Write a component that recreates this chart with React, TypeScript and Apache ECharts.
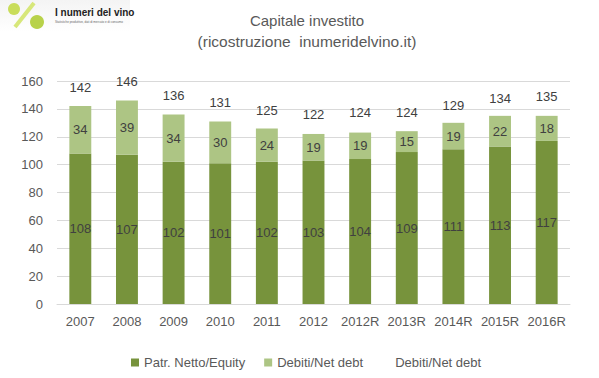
import React, { useEffect, useRef } from "react";
import * as echarts from "echarts";

const categories = ["2007", "2008", "2009", "2010", "2011", "2012", "2012R", "2013R", "2014R", "2015R", "2016R"];
const equity = [108, 107, 102, 101, 102, 103, 104, 109, 111, 113, 117];
const debt = [34, 39, 34, 30, 24, 19, 19, 15, 19, 22, 18];
const totals = [142, 146, 136, 131, 125, 122, 124, 124, 129, 134, 135];

export default function App() {
  const ref = useRef<HTMLDivElement>(null);
  useEffect(() => {
    document.body.style.margin = "0";
    const chart = echarts.init(ref.current!, null, { renderer: "svg" });
    const font = "Liberation Sans, Arial, sans-serif";
    chart.setOption({
      animation: false,
      textStyle: { fontFamily: font },
      graphic: [
        {
          type: "rect",
          shape: { x: 0, y: 0, width: 130, height: 32 },
          style: {
            fill: new echarts.graphic.LinearGradient(0, 0, 0, 1, [
              { offset: 0, color: "#f4f4f4" },
              { offset: 1, color: "#ffffff" },
            ]),
          },
        },
        { type: "circle", shape: { cx: 14, cy: 9, r: 6 }, style: { fill: "#c9dd5a" } },
        { type: "line", shape: { x1: 15, y1: 27, x2: 34, y2: 3 }, style: { stroke: "#d7e77a", lineWidth: 4 } },
        { type: "circle", shape: { cx: 37, cy: 22, r: 7 }, style: { fill: "#b8d24a" } },
        { type: "text", x: 55, y: 7, style: { text: "I numeri del vino", fontSize: 10, fontWeight: "bold", fill: "#222", fontFamily: font } },
        { type: "text", x: 55, y: 20, style: { text: "Statistiche produttive, dati di mercato e di consumo", fontSize: 3, fill: "#666", fontFamily: font } },
        {
          type: "text",
          x: 307,
          y: 20,
          style: { text: "Capitale investito", fontSize: 15, fill: "#595959", fontFamily: font, verticalAlign: "middle", align: "center" },
        },
        {
          type: "text",
          x: 307,
          y: 41,
          style: { text: "(ricostruzione  inumeridelvino.it)", fontSize: 15.5, fill: "#595959", fontFamily: font, verticalAlign: "middle", align: "center" },
        },
      ],
      legend: {
        top: 351,
        left: 126,
        itemWidth: 8,
        itemHeight: 8,
        itemGap: 19,
        textStyle: { color: "#595959", fontSize: 13, fontFamily: font },
        data: [
          { name: "Patr. Netto/Equity", icon: "rect" },
          { name: "Debiti/Net debt", icon: "rect" },
          { name: "Debiti/Net debt ", icon: "rect", itemStyle: { color: "rgba(0,0,0,0)" } },
        ],
      },
      grid: { left: 57, right: 29, top: 81, bottom: 74 },
      xAxis: {
        type: "category",
        data: categories,
        axisTick: { show: false },
        axisLine: { lineStyle: { color: "#d9d9d9" } },
        axisLabel: { color: "#595959", fontSize: 13, margin: 11, interval: 0 },
      },
      yAxis: {
        type: "value",
        min: 0,
        max: 160,
        interval: 20,
        axisLabel: { color: "#595959", fontSize: 13, margin: 14 },
        splitLine: { lineStyle: { color: "#d9d9d9" } },
        axisLine: { show: false },
        axisTick: { show: false },
      },
      series: [
        {
          name: "Patr. Netto/Equity",
          type: "bar",
          stack: "a",
          data: equity,
          barWidth: "47%",
          itemStyle: { color: "#77933c" },
          label: { show: true, position: "inside", color: "#404040", fontSize: 13 },
        },
        {
          name: "Debiti/Net debt",
          type: "bar",
          stack: "a",
          data: debt,
          itemStyle: { color: "#adc584" },
          label: { show: true, position: "inside", color: "#404040", fontSize: 13 },
        },
        {
          name: "Debiti/Net debt ",
          type: "line",
          data: totals,
          symbol: "circle",
          symbolSize: 1,
          lineStyle: { width: 0, color: "rgba(0,0,0,0)" },
          itemStyle: { color: "rgba(0,0,0,0)" },
          label: { show: true, position: "top", distance: 12, color: "#404040", fontSize: 13 },
        },
      ],
    });
    return () => chart.dispose();
  }, []);
  return <div ref={ref} style={{ width: 599, height: 378 }} />;
}
